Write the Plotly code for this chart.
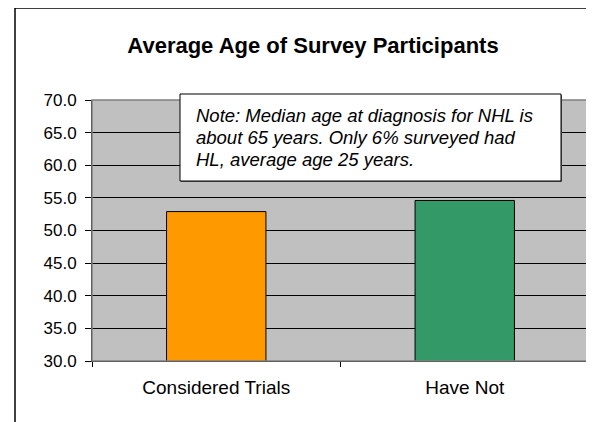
import plotly.graph_objects as go

categories = ["Considered Trials", "Have Not"]
avg_age = [52.9, 54.6]
bar_colors = ["#FF9900", "#339966"]
y_ticks = [30, 35, 40, 45, 50, 55, 60, 65, 70]
title_text = "Average Age of Survey Participants"
note_lines = ["Note: Median age at diagnosis for NHL is",
              "about 65 years. Only 6% surveyed had",
              "HL, average age 25 years."]

OFF = 8  # default page body margin
W, H = 594 - OFF, 422 - OFF
L, R, T, B = 92 - OFF, 5, 100 - OFF, 61
pw, ph = W - L - R, H - T - B

def px(x):  # window x -> paper
    return (x - OFF - L) / pw

def py(y):  # window y -> paper
    return (H - B - (y - OFF)) / ph

FONT = "Liberation Sans, Arial, sans-serif"

fig = go.Figure()
fig.add_trace(go.Bar(
    x=categories, y=avg_age,
    marker=dict(color=bar_colors, line=dict(color="black", width=1)),
))

fig.update_layout(
    width=W, height=H,
    margin=dict(l=L, r=R, t=T, b=B),
    paper_bgcolor="white",
    plot_bgcolor="#C0C0C0",
    bargap=0.6,
    showlegend=False,
    font=dict(family=FONT, color="black", size=17),
    title=dict(text="<b>" + title_text + "</b>", xref="container",
               x=(313 - OFF) / W, xanchor="center",
               yref="container", y=1 - (45 - OFF) / H, yanchor="middle",
               font=dict(size=22)),
    xaxis=dict(showgrid=False, ticks="outside", tickson="boundaries", ticklen=5,
               tickcolor="black", showline=True, linecolor="black", linewidth=1,
               tickfont=dict(size=19), ticklabelstandoff=9),
    yaxis=dict(range=[30, 70], tickvals=y_ticks,
               ticktext=[f"{v:.1f}" for v in y_ticks],
               showgrid=True, gridcolor="black", gridwidth=1, zeroline=False,
               ticks="outside", ticklen=6, tickcolor="black",
               showline=True, linecolor="black", linewidth=1,
               tickfont=dict(size=17), ticklabelstandoff=5),
)

shapes = []
shapes.append(dict(type="rect", xref="paper", yref="paper",
                   x0=px(15), x1=px(610), y0=py(440), y1=py(8),
                   line=dict(color="black", width=1.5), fillcolor="rgba(0,0,0,0)",
                   layer="below"))
shapes.append(dict(type="rect", xref="paper", yref="paper",
                   x0=0, x1=1, y0=0, y1=1,
                   line=dict(color="#808080", width=1.5), fillcolor="rgba(0,0,0,0)",
                   layer="above"))
shapes.append(dict(type="rect", xref="paper", yref="paper",
                   x0=px(181), x1=px(562), y0=py(182), y1=py(95),
                   line=dict(width=0), fillcolor="#606060", layer="above"))
shapes.append(dict(type="rect", xref="paper", yref="paper",
                   x0=px(180), x1=px(561), y0=py(181), y1=py(94),
                   line=dict(color="black", width=1), fillcolor="white", layer="above"))
fig.update_layout(shapes=shapes)

line_y = [115, 137, 159]
for txt, yc in zip(note_lines, line_y):
    fig.add_annotation(text="<i>" + txt + "</i>", xref="paper", yref="paper",
                       x=px(194), y=py(yc), xanchor="left", yanchor="middle",
                       align="left", showarrow=False,
                       font=dict(size=18.5, family=FONT))

fig.write_html("out.html")
